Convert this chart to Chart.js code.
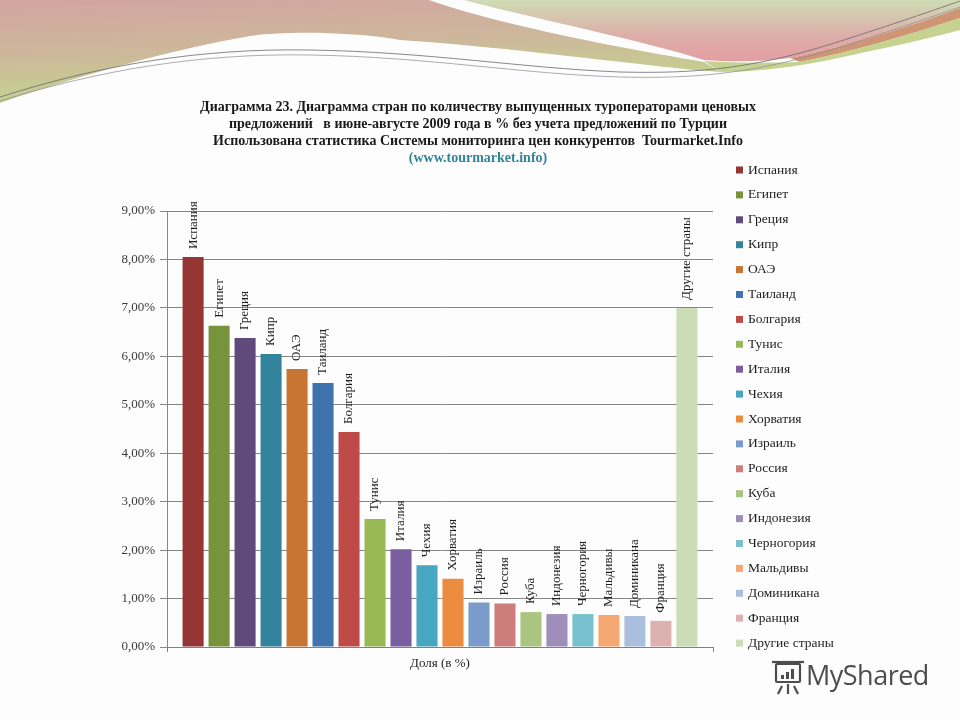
<!DOCTYPE html>
<html>
<head>
<meta charset="utf-8">
<script src="https://cdn.jsdelivr.net/npm/chart.js@4.4.0/dist/chart.umd.min.js"></script>
<style>
  html, body { margin: 0; padding: 0; background: #fdfdfd; }
  #wrap { position: relative; width: 960px; height: 720px; overflow: hidden; }
  #bg { position: absolute; left: 0; top: 0; }
  #c { position: absolute; left: 0; top: 0; }
  #wm { position: absolute; left: 806px; top: 656px; font-family: "Open Sans", sans-serif; font-size: 27px; color: #4d4d4d; letter-spacing: -0.5px; }
</style>
</head>
<body>
<div id="wrap">
<svg id="bg" width="960" height="720" viewBox="0 0 960 720">
  <defs>
    <linearGradient id="gl" x1="0" y1="0" x2="0.25" y2="1">
      <stop offset="0" stop-color="#d3a4a1"/>
      <stop offset="0.5" stop-color="#cdb79b"/>
      <stop offset="1" stop-color="#c2d68d"/>
    </linearGradient>
    <linearGradient id="gr" x1="0" y1="0" x2="0" y2="1">
      <stop offset="0" stop-color="#cfdcb4"/>
      <stop offset="0.55" stop-color="#dcb0aa"/>
      <stop offset="1" stop-color="#e49ea1"/>
    </linearGradient>
  </defs>
  <path d="M0,0 L429,0 C500,25 620,48 704,62 L721,72 C640,66 520,48 400,40 C340,30 270,32 245,37 C180,48 80,75 0,103 Z" fill="url(#gl)"/>
  <path d="M464,0 L960,0 L960,8 C900,30 840,48 790,58 C760,62 730,62 704,60 C640,40 540,20 464,0 Z" fill="url(#gr)"/>
  <path d="M790,58 C840,48 900,30 960,8 L960,18 C900,38 850,52 800,62 Z" fill="#cf9676"/>
  <path d="M704,61 C730,63 760,63 800,62 C850,52 900,38 960,18 L960,30 C930,38 900,45 829,60 C790,68 750,72 721,72 Z" fill="#c6d28f"/>
  <path d="M0,97 C100,65 200,48 310,50 C430,52 520,68 620,72 C700,74 760,68 850,38 C900,22 940,8 960,1" fill="none" stroke="#6a6a72" stroke-width="0.8"/>
  <path d="M0,101 C100,70 200,53 310,55 C430,57 520,74 620,77 C700,79 760,73 850,44 C900,28 940,14 960,7" fill="none" stroke="#8a8a90" stroke-width="0.7"/>
  <g fill="none" stroke="#4d4d4d" stroke-width="2.2">
    <rect x="776" y="664" width="24" height="18" rx="1"/>
    <path d="M772,662 L804,662"/>
    <path d="M782,686 L778,694 M794,686 L798,694 M788,684 L788,694"/>
  </g>
  <g fill="#4d4d4d">
    <rect x="781" y="675" width="3" height="4"/>
    <rect x="786" y="672" width="3" height="7"/>
    <rect x="791" y="669" width="3" height="10"/>
  </g>
</svg>
<canvas id="c" width="960" height="720"></canvas>
<div id="wm">MyShared</div>
</div>
<script>
const categories = ['Доля (в %)'];
const seriesNames = ['Испания','Египет','Греция','Кипр','ОАЭ','Таиланд','Болгария','Тунис','Италия','Чехия','Хорватия','Израиль','Россия','Куба','Индонезия','Черногория','Мальдивы','Доминикана','Франция','Другие страны'];
const seriesValues = [8.05, 6.63, 6.38, 6.05, 5.74, 5.45, 4.44, 2.64, 2.02, 1.69, 1.41, 0.92, 0.90, 0.72, 0.68, 0.68, 0.66, 0.64, 0.54, 7.00];
const seriesColors = ['#943634','#77933c','#5f4a7b','#31849b','#c87533','#3f73ae','#bf4b48','#98b954','#7b5e9f','#47a6c0','#eb8c3f','#7b9cca','#cd7d7b','#a9c57f','#9f8dba','#79c1ce','#f6a872','#aabfdd','#ddb1b0','#ccdcb6'];
const yTicks = [0, 1, 2, 3, 4, 5, 6, 7, 8, 9];
const titleLines = [
  'Диаграмма 23. Диаграмма стран по количеству выпущенных туроператорами ценовых',
  'предложений   в июне-августе 2009 года в % без учета предложений по Турции',
  'Использована статистика Системы мониторинга цен конкурентов  Tourmarket.Info'
];
const subtitleLine = '(www.tourmarket.info)';

const SERIF = '"Liberation Serif", "DejaVu Serif", serif';

const datasets = seriesNames.map((n, i) => ({
  label: n,
  data: [seriesValues[i]],
  backgroundColor: seriesColors[i],
  borderWidth: 0,
  categoryPercentage: 0.952,
  barPercentage: 0.81
}));

const extras = {
  id: 'extras',
  afterDatasetsDraw(chart) {
    const ctx = chart.ctx;
    ctx.save();
    ctx.fillStyle = '#1e1e1e';
    ctx.font = '13px ' + SERIF;
    ctx.textAlign = 'left';
    ctx.textBaseline = 'middle';
    chart.data.datasets.forEach((ds, i) => {
      const el = chart.getDatasetMeta(i).data[0];
      ctx.save();
      ctx.translate(el.x, el.y - 8);
      ctx.rotate(-Math.PI / 2);
      ctx.fillText(ds.label, 0, 0);
      ctx.restore();
    });
    ctx.restore();
  },
  afterDraw(chart) {
    const ctx = chart.ctx;
    ctx.save();
    ctx.textAlign = 'center';
    ctx.textBaseline = 'middle';
    ctx.fillStyle = '#1a1a1a';
    ctx.font = 'bold 14px ' + SERIF;
    titleLines.forEach((t, i) => ctx.fillText(t, 478, 107 + i * 17));
    ctx.fillStyle = '#31849b';
    ctx.fillText(subtitleLine, 478, 158);
    ctx.textAlign = 'left';
    ctx.font = '13.5px ' + SERIF;
    chart.data.datasets.forEach((ds, i) => {
      const y = 170 + i * 24.9;
      ctx.fillStyle = ds.backgroundColor;
      ctx.fillRect(736, y - 3.5, 7, 7);
      ctx.fillStyle = '#1e1e1e';
      ctx.fillText(ds.label, 748, y);
    });
    ctx.restore();
  }
};

new Chart(document.getElementById('c'), {
  type: 'bar',
  data: { labels: categories, datasets },
  options: {
    responsive: false,
    animation: false,
    layout: { padding: { left: 100, right: 247, top: 211, bottom: 43 } },
    plugins: { legend: { display: false }, tooltip: { enabled: false }, title: { display: false } },
    scales: {
      x: {
        afterFit(s) { s.height = 30; },
        grid: { drawOnChartArea: false, tickLength: 5, color: '#808080' },
        border: { color: '#808080' },
        ticks: { color: '#1e1e1e', font: { family: SERIF, size: 13 }, padding: 4 }
      },
      y: {
        min: 0, max: 9,
        afterFit(s) { s.width = 67; },
        afterBuildTicks(s) { s.ticks = yTicks.map(v => ({ value: v })); },
        grid: { color: '#868686', tickLength: 7 },
        border: { color: '#868686' },
        ticks: {
          color: '#3a3a3a',
          font: { family: SERIF, size: 13 },
          padding: 5,
          callback: v => v.toFixed(2).replace('.', ',') + '%'
        }
      }
    }
  },
  plugins: [extras]
});
</script>
</body>
</html>
